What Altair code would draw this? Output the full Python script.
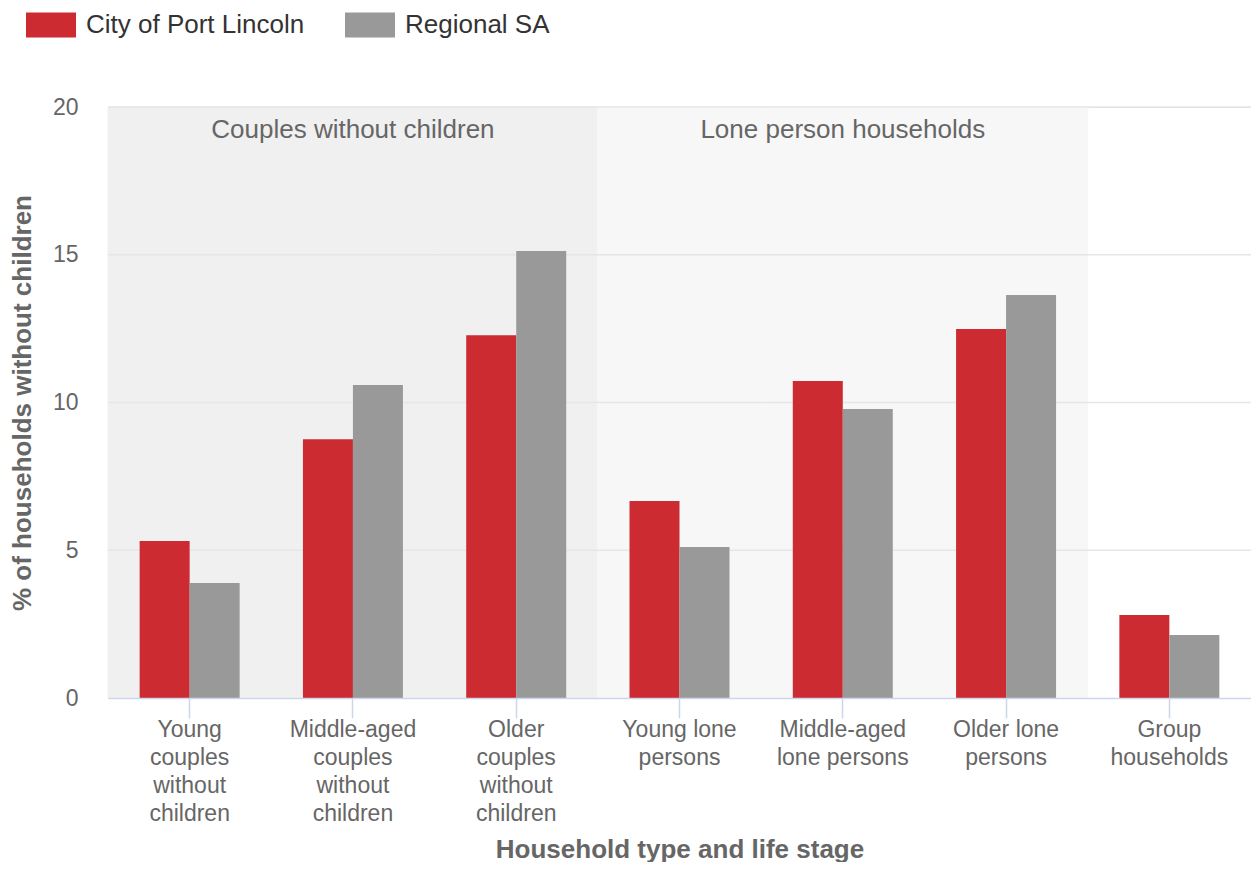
import altair as alt
import pandas as pd

# ---- data ----
categories = [
    "Young\ncouples\nwithout\nchildren",
    "Middle-aged\ncouples\nwithout\nchildren",
    "Older\ncouples\nwithout\nchildren",
    "Young lone\npersons",
    "Middle-aged\nlone persons",
    "Older lone\npersons",
    "Group\nhouseholds",
]
series = ["City of Port Lincoln", "Regional SA"]
port_lincoln = [5.31, 8.76, 12.28, 6.67, 10.73, 12.49, 2.81]
regional_sa = [3.89, 10.59, 15.13, 5.11, 9.78, 13.64, 2.13]

band_names = ["Couples without children", "Lone person households"]
band_members = [categories[0:3], categories[3:6]]
band_label_category = [categories[1], categories[4]]
band_fills = ["#f0f0f0", "#f7f7f7"]

y_ticks = [0, 5, 10, 15, 20]
grid_values = [5, 10, 15, 20]
series_colors = ["#cb2b31", "#999999"]

FONT = "Liberation Sans"

# ---- tables ----
bars_df = pd.DataFrame(
    [{"category": c, "series": series[0], "value": v} for c, v in zip(categories, port_lincoln)]
    + [{"category": c, "series": series[1], "value": v} for c, v in zip(categories, regional_sa)]
)
bands_df = pd.DataFrame(
    [{"category": c, "band": b, "fill": f}
     for b, members, f in zip(band_names, band_members, band_fills) for c in members]
)
band_labels_df = pd.DataFrame({"category": band_label_category, "band": band_names})
grid_df = pd.DataFrame({"v": grid_values})

x_scale = alt.Scale(domain=categories, paddingInner=0, paddingOuter=0)
y_scale = alt.Scale(domain=[0, 20], nice=False)

x_axis = alt.Axis(
    title="Household type and life stage",
    labelAngle=0,
    labelExpr="split(datum.label, '\\n')",
    labelFont=FONT,
    labelFontSize=23,
    labelColor="#666666",
    labelLineHeight=28,
    labelPadding=0,
    labelLimit=0,
    tickSize=20,
    tickColor="#ccd6eb",
    tickWidth=1.5,
    domainColor="#ccd6eb",
    domainWidth=1.5,
    grid=False,
    titleFont=FONT,
    titleFontSize=26,
    titleFontWeight="bold",
    titleColor="#666666",
    titleY=159,
    titleBaseline="alphabetic",
)

y_axis = alt.Axis(
    title="% of households without children",
    values=y_ticks,
    grid=False,
    domain=False,
    ticks=False,
    tickSize=0,
    labelPadding=30,
    labelFont=FONT,
    labelFontSize=23,
    labelColor="#666666",
    titleFont=FONT,
    titleFontSize=26,
    titleFontWeight="bold",
    titleColor="#666666",
    titleX=-86,
    titleY=295.5,
    titleBaseline="middle",
)

bands = alt.Chart(bands_df).transform_calculate(
    lo="0", hi="20"
).mark_rect(strokeWidth=1).encode(
    x=alt.X("category:N", scale=x_scale, axis=x_axis),
    y=alt.Y("lo:Q", scale=y_scale, axis=y_axis),
    y2="hi:Q",
    fill=alt.Fill("fill:N", scale=None),
    stroke=alt.Stroke("fill:N", scale=None),
)

grid = alt.Chart(grid_df).mark_rule(color="#e6e6e6", strokeWidth=1.5).encode(
    y=alt.Y("v:Q", scale=y_scale, axis=y_axis),
)

bars = alt.Chart(bars_df).mark_bar().encode(
    x=alt.X("category:N", scale=x_scale, axis=x_axis),
    xOffset=alt.XOffset("series:N",
                        scale=alt.Scale(domain=series, paddingInner=0, paddingOuter=0.633)),
    y=alt.Y("value:Q", scale=y_scale, axis=y_axis),
    color=alt.Color(
        "series:N",
        scale=alt.Scale(domain=series, range=series_colors),
        legend=alt.Legend(
            title=None,
            orient="none",
            legendX=-82,
            legendY=-107,
            direction="horizontal",
            symbolType="M-1,-0.5H1V0.5H-1Z",
            symbolSize=2500,
            symbolStrokeWidth=0,
            symbolOpacity=1,
            labelFont=FONT,
            labelFontSize=26,
            labelColor="#333333",
            labelOffset=10,
            labelLimit=0,
            columnPadding=40,
            padding=0,
        ),
    ),
)

band_text = alt.Chart(band_labels_df).transform_calculate(
    top="20"
).mark_text(
    font=FONT, fontSize=26, color="#666666", baseline="middle", dy=23
).encode(
    x=alt.X("category:N", scale=x_scale, axis=x_axis),
    y=alt.Y("top:Q", scale=y_scale, axis=y_axis),
    text="band:N",
)

chart = alt.layer(bands, grid, bars, band_text).properties(
    width=1143,
    height=591,
    padding={"left": 100, "top": 99, "right": 0, "bottom": 164},
    autosize=alt.AutoSizeParams(type="none"),
).configure_view(stroke=None).configure(background="white")

chart.save("out.html", embed_options={"renderer": "svg", "actions": False})
